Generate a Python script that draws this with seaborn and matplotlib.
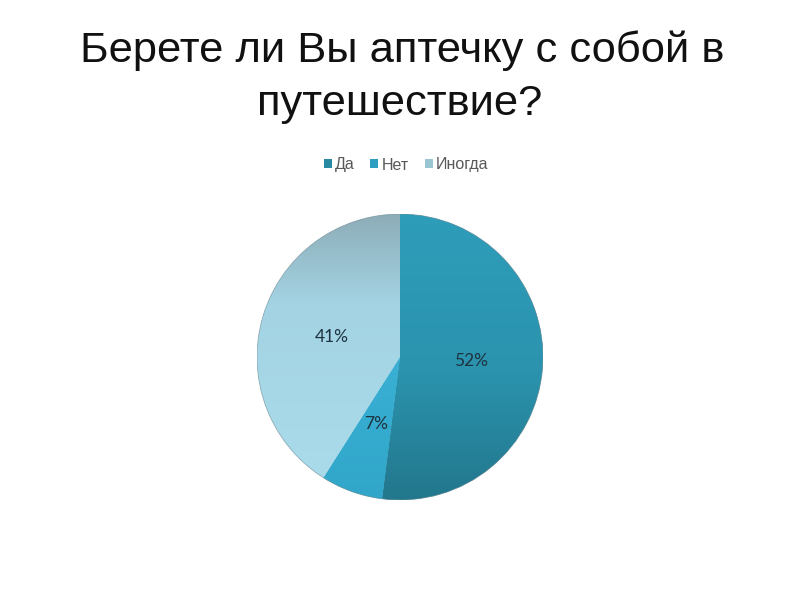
import matplotlib
matplotlib.use("Agg")
import matplotlib.pyplot as plt
import seaborn as sns
import numpy as np
from matplotlib.colors import LinearSegmentedColormap
from matplotlib.patches import Patch

# Data
title_lines = ["Берете ли Вы аптечку с собой в", "путешествие?"]
categories = ["Да", "Нет", "Иногда"]
values = [52, 7, 41]
pct_labels = ["52%", "7%", "41%"]

# Gradient colours (position top=0 -> bottom=1) and legend swatches
grad_colors = [
    [(0.0, "#2E9DBA"), (0.55, "#2B93AE"), (1.0, "#22778C")],
    [(0.0, "#3CB7DA"), (0.55, "#38AFD3"), (1.0, "#31A6C9")],
    [(0.0, "#8DADB8"), (0.32, "#A4D4E4"), (1.0, "#AADCEC")],
]
legend_colors = ["#2A8AA2", "#2F9EC0", "#9AC6D4"]

sns.set_theme(style="white")
plt.rcParams["font.family"] = ["Liberation Sans", "DejaVu Sans"]

fig = plt.figure(figsize=(8, 6), dpi=100)
fig.patch.set_facecolor("white")

# Title (two centered lines)
fig.text(402 / 800, 1 - 62 / 600, title_lines[0], ha="center", va="baseline",
         fontsize=31.3, color="#111111")
fig.text(400 / 800, 1 - 115 / 600, title_lines[1], ha="center", va="baseline",
         fontsize=31.3, color="#111111")

# Pie axes: center (400, 357) px, radius 143 px
cx, cy, r = 400, 357, 143
ax = fig.add_axes([(cx - r) / 800, 1 - (cy + r) / 600, 2 * r / 800, 2 * r / 600])
ax.axis("off")

wedges, _ = ax.pie(values, startangle=90, counterclock=False, radius=1,
                   colors=[c[1][1] for c in grad_colors],
                   wedgeprops=dict(linewidth=0))

grad = np.linspace(0, 1, 256).reshape(-1, 1)
for w, cols in zip(wedges, grad_colors):
    cmap = LinearSegmentedColormap.from_list("g", cols)
    im = ax.imshow(grad, cmap=cmap, extent=[-1, 1, -1, 1], origin="upper",
                   aspect="auto", zorder=2)
    im.set_clip_path(w)

# faint outline
circle = plt.Circle((0, 0), 1, fill=False, edgecolor="#7A8F96", linewidth=0.6,
                    alpha=0.6, zorder=3)
ax.add_patch(circle)

# percentage labels at 0.5 radius, mid-angle
cum = np.cumsum([0] + values[:-1])
total = sum(values)
for start, v, lab in zip(cum, values, pct_labels):
    mid = (start + v / 2) / total * 360
    ang = np.deg2rad(90 - mid)
    ax.text(0.5 * np.cos(ang), 0.5 * np.sin(ang), lab, ha="center", va="center",
            fontsize=12.5, color="#1E3340", family=["Lato", "DejaVu Sans"], zorder=4)

ax.set_xlim(-1, 1)
ax.set_ylim(-1, 1)
ax.set_aspect("equal")

# Legend
handles = [Patch(facecolor=c, edgecolor="none") for c in legend_colors]
fig.legend(handles, categories, loc="center", bbox_to_anchor=(406 / 800, 1 - 165 / 600),
           ncol=3, frameon=False, fontsize=11.5, handlelength=0.5, handleheight=0.5,
           handletextpad=0.2, columnspacing=1.0, labelcolor="#595959")

fig.savefig("out.png", dpi=100, facecolor="white")
